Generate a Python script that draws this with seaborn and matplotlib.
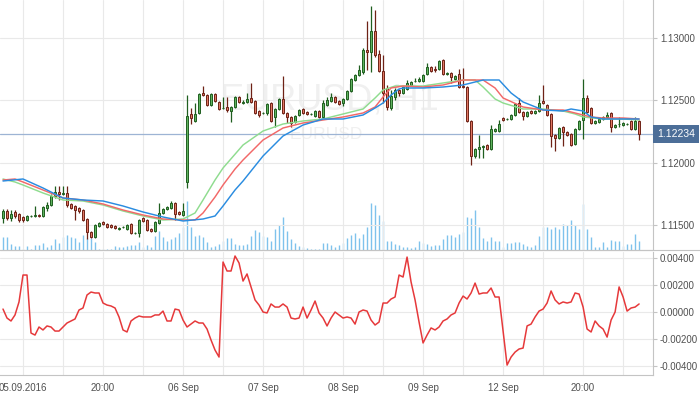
import numpy as np
import pandas as pd
import matplotlib
matplotlib.use("Agg")
import matplotlib.pyplot as plt
import matplotlib.transforms as mtransforms
from matplotlib.lines import Line2D
import seaborn as sns


# EURUSD H1 candles
opens = [
    1.11560, 1.11616, 1.11560, 1.11608, 1.11592, 1.11568, 1.11544, 1.11576, 1.11576, 1.11584,
    1.11576, 1.11640, 1.11664, 1.11736, 1.11768, 1.11752, 1.11760, 1.11672, 1.11656, 1.11640,
    1.11624, 1.11552, 1.11448, 1.11408, 1.11496, 1.11528, 1.11512, 1.11504, 1.11496, 1.11472,
    1.11488, 1.11472, 1.11512, 1.11440, 1.11440, 1.11560, 1.11544, 1.11472, 1.11456, 1.11520,
    1.11600, 1.11632, 1.11640, 1.11680, 1.11608, 1.11584, 1.11848, 1.12392, 1.12336, 1.12400,
    1.12560, 1.12544, 1.12464, 1.12552, 1.12488, 1.12440, 1.12448, 1.12416, 1.12448, 1.12528,
    1.12480, 1.12488, 1.12520, 1.12496, 1.12416, 1.12400, 1.12400, 1.12480, 1.12368, 1.12432,
    1.12512, 1.12400, 1.12368, 1.12328, 1.12384, 1.12432, 1.12408, 1.12392, 1.12376, 1.12416,
    1.12368, 1.12464, 1.12496, 1.12528, 1.12496, 1.12480, 1.12512, 1.12576, 1.12664, 1.12704,
    1.12728, 1.12904, 1.12888, 1.13056, 1.12872, 1.12736, 1.12600, 1.12440, 1.12528, 1.12584,
    1.12560, 1.12592, 1.12624, 1.12656, 1.12656, 1.12656, 1.12712, 1.12768, 1.12752, 1.12752,
    1.12824, 1.12712, 1.12720, 1.12672, 1.12712, 1.12616, 1.12608, 1.12336, 1.12056, 1.12112,
    1.12128, 1.12144, 1.12112, 1.12256, 1.12256, 1.12360, 1.12352, 1.12352, 1.12384, 1.12480,
    1.12408, 1.12376, 1.12416, 1.12400, 1.12416, 1.12496, 1.12464, 1.12392, 1.12224, 1.12200,
    1.12288, 1.12248, 1.12232, 1.12152, 1.12272, 1.12344, 1.12520, 1.12440, 1.12320, 1.12328,
    1.12352, 1.12368, 1.12400, 1.12288, 1.12312, 1.12304, 1.12312, 1.12336, 1.12272, 1.12336,
]
closes = [
    1.11616, 1.11560, 1.11592, 1.11576, 1.11544, 1.11544, 1.11576, 1.11576, 1.11584, 1.11576,
    1.11648, 1.11664, 1.11736, 1.11768, 1.11752, 1.11760, 1.11664, 1.11640, 1.11624, 1.11616,
    1.11544, 1.11448, 1.11408, 1.11504, 1.11520, 1.11512, 1.11488, 1.11488, 1.11480, 1.11480,
    1.11488, 1.11504, 1.11440, 1.11440, 1.11544, 1.11536, 1.11464, 1.11456, 1.11528, 1.11600,
    1.11632, 1.11648, 1.11680, 1.11592, 1.11592, 1.11616, 1.12376, 1.12360, 1.12392, 1.12552,
    1.12544, 1.12464, 1.12552, 1.12496, 1.12432, 1.12440, 1.12424, 1.12448, 1.12528, 1.12488,
    1.12488, 1.12512, 1.12488, 1.12400, 1.12384, 1.12400, 1.12472, 1.12336, 1.12432, 1.12512,
    1.12400, 1.12368, 1.12320, 1.12376, 1.12424, 1.12400, 1.12392, 1.12392, 1.12416, 1.12368,
    1.12480, 1.12504, 1.12528, 1.12488, 1.12472, 1.12512, 1.12576, 1.12672, 1.12704, 1.12744,
    1.12904, 1.12888, 1.13056, 1.12864, 1.12736, 1.12560, 1.12448, 1.12536, 1.12584, 1.12560,
    1.12608, 1.12640, 1.12648, 1.12656, 1.12672, 1.12704, 1.12768, 1.12736, 1.12744, 1.12816,
    1.12712, 1.12720, 1.12688, 1.12696, 1.12608, 1.12608, 1.12336, 1.12056, 1.12112, 1.12128,
    1.12136, 1.12112, 1.12272, 1.12272, 1.12312, 1.12344, 1.12352, 1.12384, 1.12472, 1.12408,
    1.12376, 1.12408, 1.12400, 1.12416, 1.12480, 1.12480, 1.12384, 1.12216, 1.12200, 1.12280,
    1.12248, 1.12224, 1.12144, 1.12272, 1.12336, 1.12520, 1.12408, 1.12320, 1.12336, 1.12352,
    1.12368, 1.12384, 1.12288, 1.12304, 1.12312, 1.12320, 1.12312, 1.12272, 1.12336, 1.12234,
]
highs = [
    1.11632, 1.11632, 1.11624, 1.11624, 1.11600, 1.11576, 1.11584, 1.11584, 1.11656, 1.11592,
    1.11656, 1.11688, 1.11752, 1.11816, 1.11816, 1.11816, 1.11816, 1.11680, 1.11664, 1.11648,
    1.11632, 1.11560, 1.11456, 1.11512, 1.11528, 1.11536, 1.11520, 1.11512, 1.11504, 1.11488,
    1.11496, 1.11512, 1.11520, 1.11448, 1.11552, 1.11568, 1.11552, 1.11480, 1.11536, 1.11680,
    1.11640, 1.11656, 1.11696, 1.11688, 1.11616, 1.11680, 1.12544, 1.12440, 1.12480, 1.12560,
    1.12616, 1.12552, 1.12560, 1.12560, 1.12496, 1.12528, 1.12528, 1.12456, 1.12536, 1.12536,
    1.12504, 1.12560, 1.12640, 1.12504, 1.12424, 1.12408, 1.12480, 1.12488, 1.12440, 1.12520,
    1.12696, 1.12408, 1.12376, 1.12384, 1.12432, 1.12440, 1.12416, 1.12400, 1.12424, 1.12424,
    1.12504, 1.12528, 1.12560, 1.12536, 1.12504, 1.12520, 1.12584, 1.12680, 1.12712, 1.12784,
    1.12920, 1.13136, 1.13256, 1.13224, 1.12904, 1.12864, 1.12624, 1.12584, 1.12600, 1.12592,
    1.12616, 1.12664, 1.12656, 1.12680, 1.12688, 1.12712, 1.12800, 1.12776, 1.12776, 1.12824,
    1.12832, 1.12728, 1.12728, 1.12704, 1.12752, 1.12760, 1.12616, 1.12344, 1.12120, 1.12224,
    1.12144, 1.12152, 1.12304, 1.12280, 1.12344, 1.12368, 1.12360, 1.12392, 1.12480, 1.12520,
    1.12416, 1.12416, 1.12424, 1.12424, 1.12544, 1.12624, 1.12472, 1.12400, 1.12232, 1.12288,
    1.12296, 1.12256, 1.12240, 1.12280, 1.12344, 1.12672, 1.12544, 1.12448, 1.12344, 1.12360,
    1.12376, 1.12408, 1.12408, 1.12312, 1.12368, 1.12328, 1.12320, 1.12344, 1.12368, 1.12344,
]
lows = [
    1.11520, 1.11544, 1.11536, 1.11560, 1.11528, 1.11528, 1.11536, 1.11568, 1.11568, 1.11568,
    1.11568, 1.11616, 1.11656, 1.11720, 1.11704, 1.11744, 1.11648, 1.11632, 1.11544, 1.11600,
    1.11536, 1.11392, 1.11400, 1.11400, 1.11488, 1.11504, 1.11480, 1.11480, 1.11472, 1.11464,
    1.11480, 1.11464, 1.11432, 1.11432, 1.11408, 1.11528, 1.11456, 1.11448, 1.11448, 1.11512,
    1.11592, 1.11624, 1.11632, 1.11544, 1.11584, 1.11576, 1.11800, 1.12312, 1.12328, 1.12392,
    1.12536, 1.12456, 1.12456, 1.12488, 1.12424, 1.12432, 1.12408, 1.12328, 1.12440, 1.12480,
    1.12472, 1.12480, 1.12480, 1.12392, 1.12368, 1.12392, 1.12384, 1.12328, 1.12288, 1.12424,
    1.12392, 1.12320, 1.12288, 1.12320, 1.12376, 1.12392, 1.12384, 1.12384, 1.12368, 1.12360,
    1.12360, 1.12456, 1.12488, 1.12480, 1.12464, 1.12456, 1.12504, 1.12568, 1.12656, 1.12696,
    1.12712, 1.12744, 1.12728, 1.12848, 1.12728, 1.12480, 1.12424, 1.12424, 1.12504, 1.12536,
    1.12552, 1.12584, 1.12616, 1.12648, 1.12648, 1.12648, 1.12704, 1.12728, 1.12728, 1.12744,
    1.12704, 1.12704, 1.12640, 1.12664, 1.12600, 1.12600, 1.12328, 1.11984, 1.12040, 1.12040,
    1.12040, 1.12104, 1.12104, 1.12248, 1.12248, 1.12336, 1.12344, 1.12344, 1.12376, 1.12400,
    1.12344, 1.12368, 1.12392, 1.12392, 1.12408, 1.12472, 1.12376, 1.12128, 1.12096, 1.12192,
    1.12136, 1.12216, 1.12136, 1.12144, 1.12264, 1.12192, 1.12400, 1.12312, 1.12312, 1.12320,
    1.12344, 1.12360, 1.12248, 1.12280, 1.12288, 1.12296, 1.12304, 1.12264, 1.12264, 1.12184,
]
volumes = [
    1300, 1300, 600, 400, 400, 100, 400, 100, 500, 500,
    700, 300, 500, 1100, 700, 1300, 1500, 1300, 1200, 800,
    1500, 1200, 1200, 800, 100, 100, 100, 100, 400, 300,
    300, 400, 500, 500, 800, 300, 500, 300, 1400, 1900,
    1300, 900, 1100, 1300, 1700, 2300, 4900, 2300, 1400, 1500,
    1300, 800, 300, 400, 600, 900, 1200, 1200, 600, 500,
    500, 600, 1400, 2000, 1800, 1400, 1300, 900, 2100, 2500,
    3300, 1900, 1100, 700, 400, 300, 200, 100, 100, 100,
    700, 700, 500, 300, 500, 700, 1200, 1500, 1700, 1200,
    1600, 2300, 4700, 4500, 3500, 2900, 900, 900, 600, 500,
    300, 300, 200, 300, 900, 700, 600, 400, 500, 500,
    1100, 1500, 1500, 1300, 1600, 1800, 3300, 3200, 4000, 2300,
    1200, 900, 1300, 900, 900, 300, 700, 700, 800, 800,
    600, 400, 300, 500, 1400, 2300, 2300, 2100, 2300, 2100,
    2600, 2500, 3000, 2500, 2100, 4600, 2100, 1300, 300, 300,
    800, 300, 1000, 900, 900, 400, 600, 600, 1600, 900,
]

# lower oscillator
osc = [
    0.00022, -0.00045, -0.00067, -0.00022, 0.00075, 0.00276, 0.00276, -0.00157, -0.00172, -0.00112,
    -0.00134, -0.00104, -0.00112, -0.00142, -0.00142, -0.00112, -0.00082, -0.00067, -0.00052, 0.00015,
    0.00030, 0.00127, 0.00149, 0.00142, 0.00142, 0.00067, 0.00052, 0.00045, 0.00030, -0.00037,
    -0.00134, -0.00149, -0.00067, -0.00045, -0.00030, -0.00037, -0.00037, -0.00037, -0.00022, -0.00022,
    0.00007, -0.00067, -0.00067, 0.00022, 0.00015, -0.00060, -0.00112, -0.00090, -0.00067, -0.00082,
    -0.00082, -0.00127, -0.00209, -0.00284, -0.00336, 0.00373, 0.00306, 0.00306, 0.00418, 0.00366,
    0.00231, 0.00284, 0.00187, 0.00090, 0.00052, 0.00000, -0.00007, 0.00060, 0.00037, 0.00037,
    0.00060, 0.00037, -0.00045, -0.00052, -0.00045, 0.00037, -0.00045, 0.00015, 0.00082, -0.00007,
    -0.00045, -0.00104, -0.00045, 0.00000, -0.00022, -0.00045, -0.00037, -0.00045, -0.00090, 0.00000,
    0.00015, 0.00007, -0.00060, -0.00097, -0.00075, 0.00067, 0.00067, 0.00097, 0.00112, 0.00276,
    0.00261, 0.00410, 0.00224, 0.00090, -0.00075, -0.00231, -0.00172, -0.00119, -0.00134, -0.00112,
    -0.00067, -0.00052, -0.00022, -0.00007, 0.00067, 0.00119, 0.00097, 0.00142, 0.00216, 0.00134,
    0.00142, 0.00142, 0.00179, 0.00112, 0.00112, -0.00142, -0.00396, -0.00336, -0.00299, -0.00276,
    -0.00269, -0.00104, -0.00090, -0.00037, 0.00007, 0.00022, 0.00067, 0.00157, 0.00090, 0.00060,
    0.00075, 0.00067, 0.00075, 0.00142, 0.00134, 0.00037, -0.00127, -0.00149, -0.00067, -0.00104,
    -0.00127, -0.00187, -0.00060, 0.00000, 0.00187, 0.00112, 0.00007, 0.00030, 0.00037, 0.00060,
]

# alligator lines, read at bar positions
jaw_bar = [0, 5, 10, 15, 20, 25, 30, 35, 40, 45, 50, 53, 55, 58, 60, 65, 70, 75, 80, 85,
           90, 93, 95, 97, 99, 100, 105, 110, 115, 120, 124, 127, 130, 135, 140, 142, 145,
           147, 150, 155, 159]
jaw_val = [1.11856, 1.11872, 1.11800, 1.11720, 1.11704, 1.11696, 1.11656, 1.11608, 1.11568,
           1.11536, 1.11552, 1.11576, 1.11656, 1.11784, 1.11856, 1.12056, 1.12216, 1.12304,
           1.12352, 1.12352, 1.12384, 1.12440, 1.12480, 1.12544, 1.12592, 1.12600, 1.12600,
           1.12608, 1.12624, 1.12664, 1.12664, 1.12560, 1.12488, 1.12424, 1.12416, 1.12432,
           1.12416, 1.12368, 1.12352, 1.12352, 1.12352]
teeth_bar = [0, 3, 5, 10, 15, 20, 25, 30, 35, 40, 45, 48, 50, 53, 55, 58, 60, 65, 70, 75,
             80, 85, 90, 93, 95, 97, 100, 105, 110, 115, 120, 123, 125, 130, 135, 140, 143,
             145, 147, 150, 155, 159]
teeth_val = [1.11864, 1.11872, 1.11848, 1.11784, 1.11720, 1.11704, 1.11672, 1.11624, 1.11584,
             1.11552, 1.11544, 1.11544, 1.11600, 1.11728, 1.11824, 1.11952, 1.12024, 1.12184,
             1.12280, 1.12320, 1.12344, 1.12368, 1.12400, 1.12448, 1.12528, 1.12600, 1.12616,
             1.12608, 1.12624, 1.12664, 1.12664, 1.12600, 1.12520, 1.12448, 1.12424, 1.12424,
             1.12400, 1.12384, 1.12368, 1.12360, 1.12360, 1.12352]
lips_bar = [0, 3, 5, 10, 15, 20, 25, 30, 35, 40, 45, 48, 50, 53, 55, 60, 65, 70, 75, 80,
            85, 90, 93, 95, 98, 100, 105, 110, 115, 118, 120, 123, 125, 130, 135, 140, 143,
            145, 150, 155, 159]
lips_val = [1.11872, 1.11848, 1.11824, 1.11760, 1.11704, 1.11696, 1.11664, 1.11616, 1.11576,
            1.11544, 1.11552, 1.11600, 1.11704, 1.11864, 1.11960, 1.12144, 1.12256, 1.12312,
            1.12336, 1.12352, 1.12392, 1.12432, 1.12520, 1.12584, 1.12616, 1.12616, 1.12616,
            1.12640, 1.12664, 1.12664, 1.12608, 1.12512, 1.12480, 1.12432, 1.12432, 1.12416,
            1.12392, 1.12368, 1.12352, 1.12352, 1.12344]

tick_bars = [5, 25, 45, 65, 85, 105, 125, 145]
tick_labels = ["05.09.2016", "20:00", "06 Sep", "07 Sep", "08 Sep", "09 Sep", "12 Sep", "20:00"]
price_ticks = [1.115, 1.120, 1.125, 1.130]
osc_ticks = [-0.004, -0.002, 0.0, 0.002, 0.004]

sns.set_style("white")
plt.rcParams["font.family"] = ["Liberation Sans", "DejaVu Sans"]

df = pd.DataFrame({"open": opens, "high": highs, "low": lows, "close": closes,
                   "volume": volumes, "osc": osc})
df["bar"] = np.arange(len(df))
up = df["close"] >= df["open"]

grid_c = "#e9e9e9"
axis_c = "#c4c4c4"
text_c = "#505050"

fig = plt.figure(figsize=(7.0, 3.94), dpi=100)
ax = fig.add_axes([0.0, 0.3655, 0.933, 0.6345])
axo = fig.add_axes([0.0, 0.0482, 0.933, 0.3122], sharex=ax)

# volume on its own scale, behind the candles
axv = ax.twinx()
axv.vlines(df["bar"], 0, df["volume"], color="#7fc2ec", lw=1.0)
axv.set_ylim(0, 25000)
axv.set_axis_off()
ax.set_zorder(axv.get_zorder() + 1)
ax.patch.set_visible(False)

# watermark
ax.text(0.504, 0.60, "EURUSD, H1", transform=ax.transAxes, ha="center", va="center",
        fontsize=26, color="#f0f0f0", family=["Liberation Sans Narrow", "Liberation Sans"], zorder=0)
ax.text(0.499, 0.46, "EURUSD", transform=ax.transAxes, ha="center", va="center",
        fontsize=12.5, color="#f0f0f0", family=["Liberation Sans Narrow", "Liberation Sans"], zorder=0)

# candles
edge = np.where(up, "#1f5e1f", "#6e2216")
fill = np.where(up, "#5fb35f", "#e07763")
ax.vlines(df["bar"], df["low"], df["high"], colors=edge, lw=0.9, zorder=3)
ax.bar(df["bar"], df["close"] - df["open"], bottom=df["open"], width=0.55,
       color=fill, edgecolor=edge, linewidth=0.7, zorder=4)

# alligator
sns.lineplot(x=lips_bar, y=lips_val, ax=ax, color="#8fdc8f", lw=1.05, estimator=None, zorder=5)
sns.lineplot(x=teeth_bar, y=teeth_val, ax=ax, color="#f26868", lw=1.05, estimator=None, zorder=5)
sns.lineplot(x=jaw_bar, y=jaw_val, ax=ax, color="#2a8ce0", lw=1.05, estimator=None, zorder=5)

# current price
last = closes[-1]
ax.axhline(last, color="#9db4d4", lw=0.9, zorder=2)
trans = mtransforms.blended_transform_factory(ax.transAxes, ax.transData)
ax.text(1.006, last, f"{last:.5f}", transform=trans, ha="left", va="center", color="white",
        fontsize=7.5, clip_on=False, zorder=10,
        bbox=dict(boxstyle="square,pad=0.38", fc="#4c6e98", ec="none"))

ax.set_ylim(1.11304, 1.13304)
ax.set_xlim(-0.75, 162.5)
ax.yaxis.tick_right()
ax.set_yticks(price_ticks)
ax.set_yticklabels([f"{v:.5f}" for v in price_ticks])
ax.set_xticks(tick_bars)
ax.set_xticks(np.arange(15, 160, 20), minor=True)
ax.tick_params(axis="x", which="both", length=0, labelbottom=False)
ax.tick_params(axis="y", length=3, color=axis_c, labelsize=7, labelcolor=text_c, pad=2)
ax.grid(True, which="both", color=grid_c, lw=0.8)
ax.set_xlabel("")
ax.set_ylabel("")

# oscillator
sns.lineplot(x=df["bar"], y=df["osc"], ax=axo, color="#e6393b", lw=1.1, estimator=None)
axo.set_ylim(-0.004701, 0.004478)
axo.yaxis.tick_right()
axo.set_yticks(osc_ticks)
axo.set_yticklabels([f"{v:.5f}" for v in osc_ticks])
axo.set_xticks(tick_bars)
axo.set_xticklabels(tick_labels)
axo.set_xticks(np.arange(15, 160, 20), minor=True)
axo.tick_params(axis="x", which="major", length=3, color=axis_c, labelsize=7, labelcolor=text_c, pad=3)
axo.tick_params(axis="x", which="minor", length=3, color=axis_c)
axo.tick_params(axis="y", length=3, color=axis_c, labelsize=7, labelcolor=text_c, pad=2)
axo.grid(True, which="both", color=grid_c, lw=0.8)
axo.set_xlabel("")
axo.set_ylabel("")

for a in (ax, axo):
    for side in ("left", "top"):
        a.spines[side].set_visible(False)
    for side in ("right", "bottom"):
        a.spines[side].set_color(axis_c)
        a.spines[side].set_linewidth(0.8)

fig.add_artist(Line2D([0, 1], [0.3655, 0.3655], color=axis_c, lw=0.8))

fig.savefig("out.png", dpi=100)
